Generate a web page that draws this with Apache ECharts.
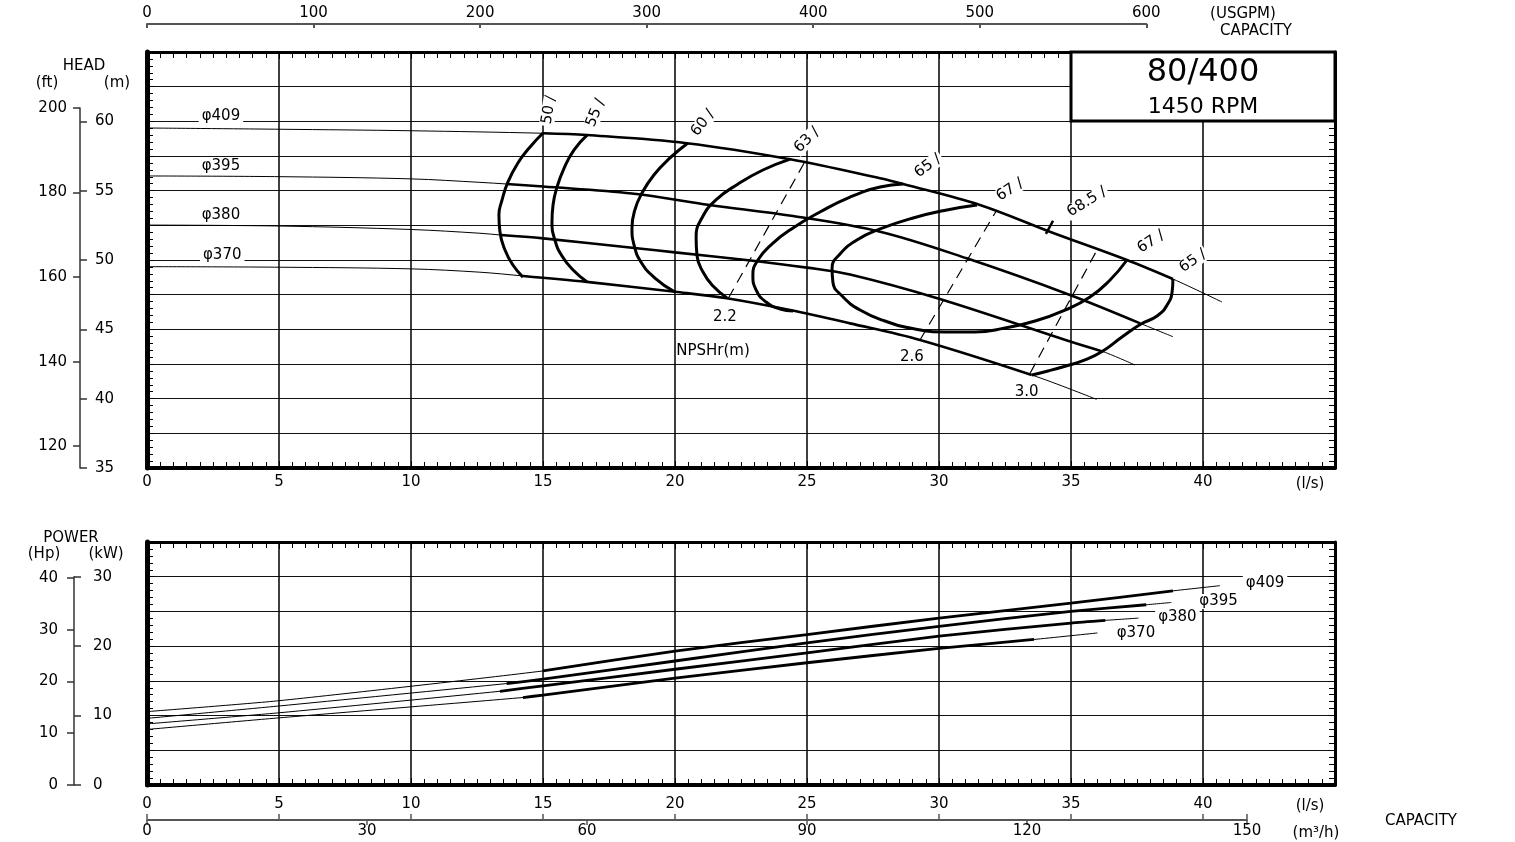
<!DOCTYPE html>
<html>
<head>
<meta charset="utf-8">
<script src="https://cdn.jsdelivr.net/npm/echarts@6.0.0/dist/echarts.min.js"></script>
<style>
html,body{margin:0;padding:0;background:#fff;}
#chart{width:1515px;height:842px;}
</style>
</head>
<body>
<div id="chart"></div>
<script>
// ================= DATA =================
const diameters = ['φ409', 'φ395', 'φ380', 'φ370'];

// Head curves: [capacity (l/s), head (m)]
const head409 = [[0,59.52],[5,59.43],[10,59.32],[15,59.14],[16.67,59.01],[20.45,58.42],[24.36,57.26],[27.77,55.89],[28.64,55.48],[31.55,53.97],[34.2,52.04],[37.12,50.0],[38.86,48.63],[40.72,46.97]];
const head395 = [[0,56.06],[5,56.01],[10,55.85],[12.61,55.6],[13.62,55.48],[15,55.3],[18.37,54.8],[21.31,53.97],[24.47,53.17],[27.77,52.04],[31.05,50.12],[34.96,47.48],[37.62,45.43],[38.86,44.47]];
const head380 = [[0,52.52],[5,52.45],[10,52.2],[12.61,51.93],[13.4,51.8],[15.01,51.56],[18.55,50.85],[20,50.55],[22.95,49.95],[25,49.45],[26.63,48.95],[30,47.2],[35,44.1],[36.22,43.39],[37.42,42.43]];
const head370 = [[0,49.52],[5,49.48],[10,49.36],[12.61,49.12],[14.24,48.85],[16.66,48.42],[20,47.71],[21.96,47.24],[24.36,46.39],[26.63,45.43],[29.28,44.23],[33.51,41.71],[35.97,39.95]];
// operating range (bold part) of each head curve, l/s
const headRange409 = [15, 38.86];
const headRange395 = [13.62, 37.62];
const headRange380 = [13.4, 36.22];
const headRange370 = [14.24, 33.51];

// Efficiency contours (%), [l/s, m]
const eff50 = [[15.0,59.16],[14.51,58.15],[14.05,57.0],[13.67,55.62],[13.45,54.33],[13.33,53.24],[13.37,52.02],[13.56,50.72],[13.86,49.64],[14.24,48.77]];
const eff55 = [[16.67,59.01],[16.17,57.93],[15.8,56.63],[15.53,55.26],[15.38,53.97],[15.34,52.74],[15.45,51.44],[15.72,50.29],[16.14,49.28],[16.67,48.41]];
const eff60 = [[20.49,58.44],[19.81,57.36],[19.2,56.13],[18.75,54.83],[18.48,53.61],[18.37,52.31],[18.45,51.08],[18.71,49.86],[19.24,48.7],[20.0,47.69]];
const eff63 = [[24.36,57.28],[23.33,56.49],[22.39,55.48],[21.55,54.33],[21.02,53.03],[20.8,51.66],[20.83,50.36],[21.06,49.13],[21.44,48.12],[21.97,47.26]];
const eff65 = [[28.64,55.48],[27.77,55.26],[26.63,54.54],[25.49,53.46],[24.47,52.31],[23.67,51.15],[23.14,50.0],[22.95,48.92],[23.07,47.84],[23.45,46.97],[23.98,46.47],[24.47,46.33]];
const eff67 = [[31.44,53.97],[30.3,53.61],[29.02,53.03],[27.77,52.24],[26.89,51.44],[26.25,50.43],[25.95,49.42],[25.98,48.41],[26.33,47.4],[27.01,46.39],[27.95,45.6],[29.09,45.02],[30.23,44.81],[31.36,44.81],[32.5,45.1],[33.64,45.6],[34.77,46.39],[35.72,47.33],[36.48,48.56],[37.12,50.0]];
const eff65right = [[38.86,48.63],[38.83,47.69],[38.64,46.75],[38.26,45.96],[37.65,45.38],[36.93,44.45],[36.21,43.44],[35.53,42.79],[34.81,42.36],[34.13,42.0],[33.52,41.71]];
const bestEffMark = [[34.05,51.89],[34.32,52.83]];

const effLabelText = ['50', '55', '60', '63', '65', '67', '68.5', '67', '65'];
const effLabelAt = [[15.23,60.82],[17.0,60.6],[21.06,59.88],[25.0,58.65],[29.58,56.78],[32.69,55.05],[35.6,54.18],[38.03,51.3],[39.62,49.93]];

// NPSHr lines (m)
const npsh22 = [[22.02,47.24],[24.92,57.09]];
const npsh26 = [[29.28,44.23],[32.19,53.61]];
const npsh30 = [[33.45,41.83],[36.02,50.84]];
const npshLabelText = ['2.2', '2.6', '3.0', 'NPSHr(m)'];
const npshLabelAt = [[21.89,45.89],[28.97,43.03],[33.32,40.5],[21.44,43.44]];

const headLabelAt = [[2.8,60.38],[2.8,56.78],[2.8,53.24],[2.85,50.36]];

// Power curves: [capacity (l/s), shaft power (kW)]
const power409 = [[0,10.57],[5,12.14],[15,16.43],[20,19.29],[25,21.67],[30,24.04],[35,26.19],[38.86,27.96],[40.64,28.71]];
const power395 = [[0,9.6],[5,11.38],[13.62,14.61],[15,15.24],[20,17.86],[25,20.47],[30,22.86],[35,25.0],[37.85,25.96],[38.8,26.29]];
const power380 = [[0,8.8],[5,10.4],[13.37,13.5],[15,14.29],[20,16.67],[25,19.04],[30,21.43],[35,23.33],[36.3,23.71],[37.56,24.04]];
const power370 = [[0,8.0],[5,9.67],[14.24,12.6],[15,12.95],[20,15.39],[25,17.61],[30,19.67],[33.6,20.96],[36.0,21.9]];
const powerRange409 = [15, 38.86];
const powerRange395 = [13.62, 37.85];
const powerRange380 = [13.37, 36.3];
const powerRange370 = [14.24, 33.6];
const powerLabelAt = [[42.35,29.04],[40.59,26.43],[39.03,24.14],[37.46,21.9]];

// Axis ticks / unit conversions
const ftTicks = [120, 140, 160, 180, 200];
const FT_PER_M = 3.28084;
const GPM_PER_LS = 15.8503;
const M3H_PER_LS = 3.6;
const HP_PER_KW = 1.34102;

// ================= CHART =================
const FONT = 'DejaVu Sans';
const BLACK = '#000';
const GX = 147, GW = 1188, QMAX = 45;
const PX_PER_LS = GW / QMAX;
const HEAD_TOP = 52, HEAD_H = 416, HMIN = 35, HMAX = 65;
const PW_TOP = 542, PW_H = 243, PMAX = 35;
const pxPerM = HEAD_H / (HMAX - HMIN);
const pxPerKW = PW_H / PMAX;

const lbl = (extra) => Object.assign({color: BLACK, fontFamily: FONT, fontSize: 15}, extra || {});
const tickStyle = {color: BLACK, width: 1};

function frameAxis(gridIndex, position, min, max, interval, minorSplit, lineWidth, splitLine, labels) {
  return {
    type: 'value', gridIndex, position, min, max, interval,
    axisLine: {show: true, onZero: false, lineStyle: {color: BLACK, width: lineWidth}},
    axisTick: {show: true, inside: true, length: 7, lineStyle: tickStyle},
    minorTick: {show: true, splitNumber: minorSplit, length: 6, lineStyle: tickStyle},
    splitLine: splitLine ? {show: true, lineStyle: splitLine} : {show: false},
    minorSplitLine: {show: false},
    axisLabel: labels ? labels : {show: false}
  };
}
const lsLabel = lbl({margin: 7, formatter: v => (v === QMAX ? '' : String(v))});
const vGrid = {color: '#000', width: 1.5};
const hGrid = {color: '#111', width: 1};

const hidden = (gridIndex) => ({type: 'value', gridIndex, show: false, min: 0, max: 1});

function filterRange(arr, r) { return arr.filter(p => p[0] >= r[0] - 1e-9 && p[0] <= r[1] + 1e-9); }
function line(data, xi, yi, width, extra) {
  return Object.assign({
    type: 'line', xAxisIndex: xi, yAxisIndex: yi, data, symbol: 'none', silent: true,
    smooth: 0.35, lineStyle: {color: BLACK, width}, z: 5
  }, extra || {});
}
function labels(texts, pts, xi, yi, labelOpt, rots) {
  return {
    type: 'scatter', xAxisIndex: xi, yAxisIndex: yi, symbolSize: 0, silent: true, z: 30,
    itemStyle: {color: '#000'},
    data: pts.map((p, i) => ({value: p, label: {formatter: texts[i], rotate: rots ? rots[i] : 0}})),
    label: Object.assign({show: true, position: 'inside', color: '#000', opacity: 1, textBorderWidth: 0,
      fontFamily: FONT, fontSize: 15}, labelOpt)
  };
}

const heads = [head409, head395, head380, head370];
const headRanges = [headRange409, headRange395, headRange380, headRange370];
const powers = [power409, power395, power380, power370];
const powerRanges = [powerRange409, powerRange395, powerRange380, powerRange370];

const series = [];
heads.forEach((h, i) => {
  series.push(line(h, 0, 0, 1));
  series.push(line(filterRange(h, headRanges[i]), 0, 0, 2.6));
});
[eff50, eff55, eff60, eff63, eff65, eff67, eff65right].forEach(e => series.push(line(e, 0, 0, 3, {smooth: 0.5, z: 6})));
series.push(line(bestEffMark, 0, 0, 2.5, {smooth: false}));
[npsh22, npsh26, npsh30].forEach(n => series.push(line(n, 0, 0, 1.2, {smooth: false, lineStyle: {color: BLACK, width: 1.2, type: [11, 7]}})));
powers.forEach((p, i) => {
  series.push(line(p, 2, 2, 1, {smooth: 0.2}));
  series.push(line(filterRange(p, powerRanges[i]), 2, 2, 2.8, {smooth: 0.2}));
});
series.push(labels(diameters, headLabelAt, 0, 0, {backgroundColor: '#fff', padding: [0, 3]}));
series.push(labels(diameters, powerLabelAt, 2, 2, {backgroundColor: '#fff', padding: [0, 3]}));
series.push(labels(effLabelText.map(t => t + ' /'), effLabelAt, 0, 0, {backgroundColor: '#fff', padding: [0, 2], fontSize: 15},
  [80, 68, 52, 45, 36, 33, 32, 33, 35]));
series.push(labels(npshLabelText, npshLabelAt, 0, 0, {fontSize: 15}));

const headLeftTop = HEAD_TOP + (HMAX - 200 / FT_PER_M) * pxPerM;
const powerLeftTop = PW_TOP + (PMAX - 30) * pxPerKW;

const txt = (x, y, text, size) => ({type: 'text', z: 101, x, y,
  style: {text, font: (size || 15) + 'px "DejaVu Sans"', fill: BLACK, align: 'center', verticalAlign: 'middle'}});

const option = {
  animation: false,
  backgroundColor: '#fff',
  grid: [
    {left: GX, top: HEAD_TOP, width: GW, height: HEAD_H},
    {left: GX, top: PW_TOP, width: GW, height: PW_H},
    {left: GX, top: 24, width: (600 / GPM_PER_LS) * PX_PER_LS, height: 1},
    {left: GX, top: 819, width: (150 / M3H_PER_LS) * PX_PER_LS, height: 1},
    {left: GX, top: headLeftTop, width: 10, height: HEAD_TOP + HEAD_H - headLeftTop},
    {left: GX, top: powerLeftTop, width: 10, height: PW_TOP + PW_H - powerLeftTop}
  ],
  xAxis: [
    frameAxis(0, 'bottom', 0, QMAX, 5, 10, 4, vGrid, lsLabel),
    frameAxis(0, 'top', 0, QMAX, 5, 10, 3, null, null),
    frameAxis(1, 'bottom', 0, QMAX, 5, 10, 4, vGrid, lbl({margin: 12, formatter: v => (v === QMAX ? '' : String(v))})),
    frameAxis(1, 'top', 0, QMAX, 5, 10, 3, null, null),
    {type: 'value', gridIndex: 2, position: 'top', min: 0, max: 600, interval: 100,
      axisLine: {show: true, onZero: false, lineStyle: {color: '#555', width: 2}},
      axisTick: {show: true, inside: true, length: 4, lineStyle: {color: '#555', width: 2}},
      splitLine: {show: false}, axisLabel: lbl({margin: 3})},
    {type: 'value', gridIndex: 3, position: 'bottom', min: 0, max: 150, interval: 30,
      axisLine: {show: true, onZero: false, lineStyle: {color: '#555', width: 2}},
      axisTick: {show: true, length: 5, lineStyle: {color: '#555', width: 1.5}},
      splitLine: {show: false}, axisLabel: lbl({margin: 4})},
    {type: 'value', gridIndex: 3, position: 'top', min: 0, max: 150 / M3H_PER_LS, interval: 5,
      axisLine: {show: false, onZero: false},
      axisTick: {show: true, length: 5, lineStyle: {color: '#555', width: 1.5}},
      splitLine: {show: false}, axisLabel: {show: false}},
    hidden(4),
    hidden(5)
  ],
  yAxis: [
    frameAxis(0, 'left', HMIN, HMAX, 2.5, 5, 5, hGrid, null),
    frameAxis(0, 'right', HMIN, HMAX, 2.5, 5, 3, null, null),
    frameAxis(1, 'left', 0, PMAX, 5, 5, 5, hGrid, null),
    frameAxis(1, 'right', 0, PMAX, 5, 5, 3, null, null),
    hidden(2),
    hidden(3),
    {type: 'value', gridIndex: 4, position: 'left', offset: 67, min: HMIN, max: 200 / FT_PER_M, interval: 5,
      axisLine: {show: true, onZero: false, lineStyle: {color: '#333', width: 1.5}},
      axisTick: {show: true, inside: true, length: 7, lineStyle: {color: '#333', width: 1.5}},
      splitLine: {show: false}, axisLabel: lbl({inside: true, margin: 15})},
    {type: 'value', gridIndex: 4, position: 'left', offset: 67, min: HMIN * FT_PER_M, max: 200,
      axisLine: {show: false, onZero: false},
      axisTick: {show: true, length: 7, customValues: ftTicks, lineStyle: {color: '#333', width: 1.5}},
      splitLine: {show: false}, axisLabel: lbl({margin: 13, customValues: ftTicks})},
    {type: 'value', gridIndex: 5, position: 'left', offset: 73, min: 0, max: 30, interval: 10,
      axisLine: {show: true, onZero: false, lineStyle: {color: '#333', width: 1.5}},
      axisTick: {show: true, inside: true, length: 7, lineStyle: {color: '#333', width: 1.5}},
      splitLine: {show: false}, axisLabel: lbl({inside: true, margin: 19})},
    {type: 'value', gridIndex: 5, position: 'left', offset: 73, min: 0, max: 30 * HP_PER_KW, interval: 10,
      axisLine: {show: false, onZero: false},
      axisTick: {show: true, length: 7, lineStyle: {color: '#333', width: 1.5}},
      splitLine: {show: false}, axisLabel: lbl({margin: 16})}
  ],
  series,
  graphic: [
    {type: 'rect', z: 100, shape: {x: 1071, y: 52, width: 264, height: 69},
      style: {fill: '#fff', stroke: BLACK, lineWidth: 3}},
    txt(1203, 73, '80/400', 32),
    txt(1203, 107, '1450 RPM', 22),
    txt(1243, 14, '(USGPM)'),
    txt(1256, 31, 'CAPACITY'),
    txt(84, 66, 'HEAD'),
    txt(47, 83, '(ft)'),
    txt(117, 83, '(m)'),
    txt(1310, 484, '(l/s)'),
    txt(71, 538, 'POWER'),
    txt(44, 554, '(Hp)'),
    txt(106, 554, '(kW)'),
    txt(1310, 806, '(l/s)'),
    txt(1316, 833, '(m³/h)'),
    txt(1421, 821, 'CAPACITY')
  ]
};

const chart = echarts.init(document.getElementById('chart'), null, {renderer: 'canvas'});
chart.setOption(option);
</script>
</body>
</html>
